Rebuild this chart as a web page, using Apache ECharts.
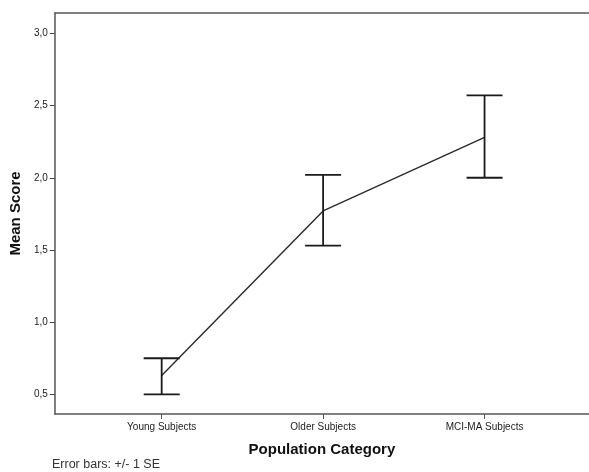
<!DOCTYPE html>
<html>
<head>
<meta charset="utf-8">
<script src="https://cdn.jsdelivr.net/npm/echarts@6/dist/echarts.min.js"></script>
<style>
html,body{margin:0;padding:0;background:#fff;}
#chart{width:589px;height:472px;}
</style>
</head>
<body>
<div id="chart"></div>
<script>
var categories = ['Young Subjects', 'Older Subjects', 'MCI-MA Subjects'];
var means = [0.63, 1.77, 2.28];
var lowerSE = [0.50, 1.53, 2.00];
var upperSE = [0.75, 2.02, 2.57];
var yTicks = [0.5, 1.0, 1.5, 2.0, 2.5, 3.0];
var xTicks = [1, 2, 3];

var FONT = '"Liberation Sans", Arial, sans-serif';
var chart = echarts.init(document.getElementById('chart'), null, {renderer: 'canvas'});

var lineData = categories.map(function (c, i) { return [i + 1, means[i]]; });
var errData = categories.map(function (c, i) { return [i + 1, lowerSE[i], upperSE[i]]; });

chart.setOption({
  animation: false,
  backgroundColor: '#fff',
  grid: {left: 54, right: 0, top: 13, height: 401},
  xAxis: [{
    type: 'value', min: 0.338, max: 3.647,
    splitLine: {show: false},
    axisLine: {show: true, lineStyle: {color: '#555', width: 1.5}},
    axisTick: {show: true, customValues: xTicks, length: 5, lineStyle: {color: '#555'}},
    axisLabel: {
      customValues: xTicks, margin: 8, fontSize: 10, color: '#222', fontFamily: FONT,
      formatter: function (v) { return categories[Math.round(v) - 1] || ''; }
    },
    name: 'Population Category', nameLocation: 'middle', nameGap: 28,
    nameTextStyle: {fontSize: 15, fontWeight: 'bold', color: '#111', fontFamily: FONT}
  }, {
    type: 'value', position: 'top', min: 0.338, max: 3.647,
    splitLine: {show: false},
    axisLine: {show: true, lineStyle: {color: '#555', width: 1.5}},
    axisTick: {show: false}, axisLabel: {show: false}
  }],
  yAxis: {
    type: 'value', min: 0.364, max: 3.141,
    splitLine: {show: false},
    axisLine: {show: true, lineStyle: {color: '#555', width: 1.5}},
    axisTick: {show: true, customValues: yTicks, length: 5, lineStyle: {color: '#444'}},
    axisLabel: {
      customValues: yTicks, margin: 7, fontSize: 10, color: '#222', fontFamily: FONT,
      formatter: function (v) { return v.toFixed(1).replace('.', ','); }
    },
    name: 'Mean Score', nameLocation: 'middle', nameGap: 22,
    nameTextStyle: {fontSize: 15, fontWeight: 'bold', color: '#111', fontFamily: FONT}
  },
  series: [
    {
      type: 'line', data: lineData, symbol: 'none',
      lineStyle: {color: '#2a2a2a', width: 1.4}, z: 2
    },
    {
      type: 'custom', data: errData, z: 3,
      renderItem: function (params, api) {
        var x = api.value(0);
        var lo = api.coord([x, api.value(1)]);
        var hi = api.coord([x, api.value(2)]);
        var hw = 18;
        var style = {stroke: '#1a1a1a', lineWidth: 1.8};
        return {
          type: 'group',
          children: [
            {type: 'line', shape: {x1: lo[0], y1: lo[1], x2: hi[0], y2: hi[1]}, style: style},
            {type: 'line', shape: {x1: lo[0] - hw, y1: lo[1], x2: lo[0] + hw, y2: lo[1]}, style: style},
            {type: 'line', shape: {x1: hi[0] - hw, y1: hi[1], x2: hi[0] + hw, y2: hi[1]}, style: style}
          ]
        };
      }
    }
  ],
  graphic: [
    {type: 'text', left: 52, top: 458,
     style: {text: 'Error bars: +/- 1 SE', fill: '#333', font: '12.5px "Liberation Sans", Arial, sans-serif'}}
  ]
});
</script>
</body>
</html>
